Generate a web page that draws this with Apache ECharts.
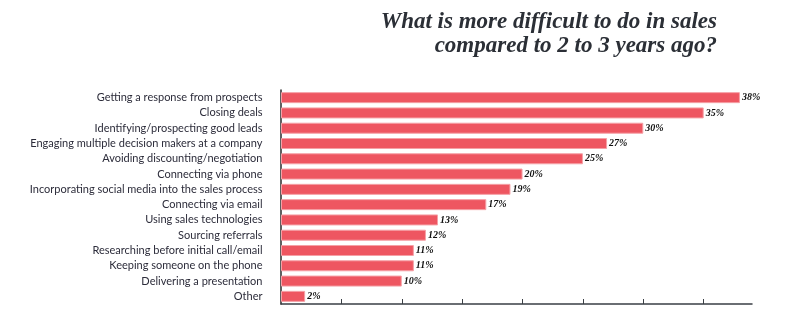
<!DOCTYPE html>
<html>
<head>
<meta charset="utf-8">
<script src="https://cdn.jsdelivr.net/npm/echarts@6/dist/echarts.min.js"></script>
<style>
html,body{margin:0;padding:0;background:#fff;}
#c{width:798px;height:325px;}
</style>
</head>
<body>
<div id="c"></div>
<script>
const categories = [
  "Getting a response from prospects",
  "Closing deals",
  "Identifying/prospecting good leads",
  "Engaging multiple decision makers at a company",
  "Avoiding discounting/negotiation",
  "Connecting via phone",
  "Incorporating social media into the sales process",
  "Connecting via email",
  "Using sales technologies",
  "Sourcing referrals",
  "Researching before initial call/email",
  "Keeping someone on the phone",
  "Delivering a presentation",
  "Other"
];
const values = [38, 35, 30, 27, 25, 20, 19, 17, 13, 12, 11, 11, 10, 2];
const xTicks = [5, 10, 15, 20, 25, 30, 35];
const titleLines = ["What is more difficult to do in sales", "compared to 2 to 3 years ago?"];

const titleFont = 'italic bold 23px "Liberation Serif"';
const chart = echarts.init(document.getElementById('c'), null, {renderer: 'canvas'});
chart.setOption({
  animation: false,
  backgroundColor: '#ffffff',
  graphic: titleLines.map((t, i) => ({
    type: 'text',
    x: 717,
    y: 22 + i * 24,
    style: {
      text: t,
      font: titleFont,
      fill: '#2b2f36',
      align: 'right',
      verticalAlign: 'middle'
    }
  })),
  grid: {left: 281, right: 46, top: 90, bottom: 21, containLabel: false},
  xAxis: {
    type: 'value',
    min: 0,
    max: 39,
    interval: 5,
    splitLine: {show: false},
    axisLabel: {show: false},
    axisLine: {show: true, lineStyle: {color: '#3a3f45', width: 1.5}},
    axisTick: {show: true, inside: true, length: 5, customValues: xTicks, lineStyle: {color: '#3a3f45', width: 1}}
  },
  yAxis: {
    type: 'category',
    inverse: true,
    offset: 1.5,
    data: categories,
    axisLine: {show: true, lineStyle: {color: '#2a2a2a', width: 1.5}},
    axisTick: {show: true, inside: true, alignWithLabel: true, length: 3, lineStyle: {color: '#555'}},
    axisLabel: {
      margin: 17,
      fontFamily: 'Lato',
      fontSize: 11,
      color: '#2c2c3a'
    }
  },
  series: [{
    type: 'bar',
    data: values,
    barWidth: 11,
    itemStyle: {color: '#ee5661', borderColor: '#f5a0a6', borderWidth: 1},
    label: {
      show: true,
      position: 'right',
      distance: 2,
      formatter: '{c}%',
      fontFamily: 'Liberation Serif',
      fontStyle: 'italic',
      fontWeight: 'bold',
      fontSize: 10,
      color: '#111'
    }
  }]
});
</script>
</body>
</html>
